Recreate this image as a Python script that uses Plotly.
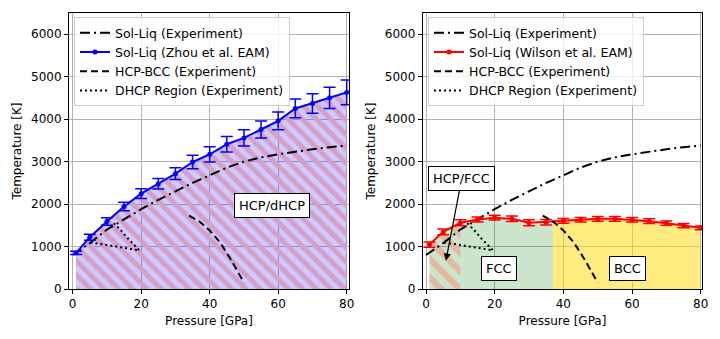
import numpy as np
import plotly.graph_objects as go

# ---------------- data ----------------
# Experimental solid-liquid boundary
P_melt_exp = [0, 5, 10, 15, 20, 25, 30, 35, 40, 45, 50, 55, 60, 65, 70, 75, 80]
T_melt_exp = [800, 1080, 1400, 1650, 1880, 2100, 2300, 2500, 2676, 2860, 3000, 3100, 3173, 3235, 3290, 3340, 3380]

# Experimental HCP-BCC boundary
P_hcp_bcc = [34, 37, 40, 43, 46, 48, 50]
T_hcp_bcc = [1730, 1590, 1380, 1100, 720, 450, 150]

# Experimental DHCP region outline
P_dhcp = [12, 14, 16, 18, 19.5, 15, 10, 5]
T_dhcp = [1550, 1390, 1200, 1030, 910, 970, 1030, 1100]

# Simulated melting curve, Zhou et al. EAM
P_zhou = [1, 5, 10, 15, 20, 25, 30, 35, 40, 45, 50, 55, 60, 65, 70, 75, 80]
T_zhou = [850, 1220, 1590, 1945, 2245, 2480, 2717, 2990, 3173, 3409, 3558, 3756, 3960, 4252, 4370, 4503, 4630]
E_zhou = [40, 70, 90, 100, 115, 125, 140, 160, 180, 185, 190, 200, 210, 220, 230, 250, 290]

# Simulated melting curve, Wilson et al. EAM
P_wilson = [1, 5, 10, 15, 20, 25, 30, 35, 40, 45, 50, 55, 60, 65, 70, 75, 80]
T_wilson = [1046, 1345, 1559, 1637, 1680, 1653, 1559, 1574, 1605, 1630, 1653, 1653, 1630, 1598, 1550, 1495, 1440]
E_wilson = [60, 70, 70, 60, 55, 65, 70, 65, 55, 55, 55, 55, 55, 55, 50, 50, 45]

# Phase boundaries used for the shaded regions (GPa)
P_hcp_fcc_end = 10
P_fcc_bcc = 37

# Region labels
labels_left = [("HCP/dHCP", 58.2, 1968)]
labels_right = [("FCC", 21.2, 487), ("BCC", 58.8, 487)]
arrow_label = ("HCP/FCC", 10.4, 2600, 5.8, 668)

# ---------------- styling ----------------
FONT = "DejaVu Sans"
W, H = 720, 339
ML, MR, MT, MB = 69, 17, 13, 50
plot_w = W - ML - MR

def px_dom(a, b):
    return [max(0.0, (a - ML) / plot_w), min(1.0, (b - ML) / plot_w)]

fig = go.Figure()

def curve_segment(P, T, p0, p1):
    """Points of the curve restricted to [p0, p1], with interpolated ends."""
    P = np.asarray(P, float)
    T = np.asarray(T, float)
    inner = (P > p0) & (P < p1)
    xs = np.concatenate([[p0], P[inner], [p1]])
    ys = np.interp(xs, P, T)
    return xs, ys

# ---------- left panel ----------
fig.add_trace(go.Scatter(
    x=P_zhou, y=T_zhou, mode="none", fill="tozeroy",
    fillpattern=dict(shape="\\", size=10, solidity=0.5, fgopacity=1,
                     bgcolor="rgba(0,0,255,0.2)", fgcolor="#d89ec8"),
    showlegend=False, hoverinfo="skip", xaxis="x", yaxis="y"))

line_common = dict(color="black", width=2)

fig.add_trace(go.Scatter(x=P_melt_exp, y=T_melt_exp, mode="lines", name="Sol-Liq (Experiment)",
                         line=dict(**line_common, dash="10px,4px,2px,4px"),
                         legend="legend", legendrank=1, xaxis="x", yaxis="y"))
fig.add_trace(go.Scatter(x=P_zhou, y=T_zhou, mode="lines+markers", name="Sol-Liq (Zhou et al. EAM)",
                         line=dict(color="blue", width=2), marker=dict(color="blue", size=5),
                         error_y=dict(type="data", array=E_zhou, color="blue", thickness=1.5, width=6),
                         legend="legend", legendrank=2, xaxis="x", yaxis="y"))
fig.add_trace(go.Scatter(x=P_hcp_bcc, y=T_hcp_bcc, mode="lines", name="HCP-BCC (Experiment)",
                         line=dict(**line_common, dash="7px,4px"),
                         legend="legend", legendrank=3, xaxis="x", yaxis="y"))
fig.add_trace(go.Scatter(x=P_dhcp, y=T_dhcp, mode="lines", name="DHCP Region (Experiment)",
                         line=dict(**line_common, dash="2px,3px"),
                         legend="legend", legendrank=4, xaxis="x", yaxis="y"))

# ---------- right panel ----------
xs, ys = curve_segment(P_wilson, T_wilson, P_wilson[0], P_fcc_bcc)
fig.add_trace(go.Scatter(x=xs, y=ys, mode="none", fill="tozeroy", fillcolor="rgba(0,128,0,0.2)",
                         showlegend=False, hoverinfo="skip", xaxis="x2", yaxis="y2"))
xs, ys = curve_segment(P_wilson, T_wilson, P_fcc_bcc, P_wilson[-1])
fig.add_trace(go.Scatter(x=xs, y=ys, mode="none", fill="tozeroy", fillcolor="rgba(255,215,0,0.5)",
                         showlegend=False, hoverinfo="skip", xaxis="x2", yaxis="y2"))
xs, ys = curve_segment(P_wilson, T_wilson, P_wilson[0], P_hcp_fcc_end)
fig.add_trace(go.Scatter(x=xs, y=ys, mode="none", fill="tozeroy",
                         fillpattern=dict(shape="\\", size=13, solidity=0.5, fgopacity=1,
                                          bgcolor="rgba(0,0,0,0)", fgcolor="#e6b8a2"),
                         showlegend=False, hoverinfo="skip", xaxis="x2", yaxis="y2"))

fig.add_trace(go.Scatter(x=P_melt_exp, y=T_melt_exp, mode="lines", name="Sol-Liq (Experiment)",
                         line=dict(**line_common, dash="10px,4px,2px,4px"),
                         legend="legend2", legendrank=1, xaxis="x2", yaxis="y2"))
fig.add_trace(go.Scatter(x=P_wilson, y=T_wilson, mode="lines+markers", name="Sol-Liq (Wilson et al. EAM)",
                         line=dict(color="red", width=2), marker=dict(color="red", size=5),
                         error_y=dict(type="data", array=E_wilson, color="red", thickness=1.5, width=6),
                         legend="legend2", legendrank=2, xaxis="x2", yaxis="y2"))
fig.add_trace(go.Scatter(x=P_hcp_bcc, y=T_hcp_bcc, mode="lines", name="HCP-BCC (Experiment)",
                         line=dict(**line_common, dash="7px,4px"),
                         legend="legend2", legendrank=3, xaxis="x2", yaxis="y2"))
fig.add_trace(go.Scatter(x=P_dhcp, y=T_dhcp, mode="lines", name="DHCP Region (Experiment)",
                         line=dict(**line_common, dash="2px,3px"),
                         legend="legend2", legendrank=4, xaxis="x2", yaxis="y2"))

# ---------- axes ----------
axis_common = dict(showline=True, linecolor="black", linewidth=1, mirror=True,
                   ticks="outside", ticklen=4, tickcolor="black",
                   showgrid=True, gridcolor="#b0b0b0", gridwidth=0.8, zeroline=False,
                   tickfont=dict(family=FONT, size=12, color="black"))
xaxis_common = dict(axis_common, tickvals=[0, 20, 40, 60, 80],
                    title=dict(text="Pressure [GPa]", font=dict(family=FONT, size=12, color="black"), standoff=6))
yaxis_common = dict(axis_common, range=[0, 6500], tickvals=[0, 1000, 2000, 3000, 4000, 5000, 6000],
                    title=dict(text="Temperature [K]", font=dict(family=FONT, size=12, color="black"), standoff=6))

legend_common = dict(font=dict(family=FONT, size=12.5, color="black"), bgcolor="rgba(255,255,255,0.8)",
                     bordercolor="#cccccc", borderwidth=1, xanchor="left", yanchor="top",
                     tracegroupgap=0, itemwidth=30)

fig.update_layout(
    width=W, height=H, margin=dict(l=ML, r=MR, t=MT, b=MB),
    paper_bgcolor="white", plot_bgcolor="white",
    font=dict(family=FONT, size=12, color="black"),
    xaxis=dict(xaxis_common, domain=px_dom(69, 349), range=[-1.07, 80.67], anchor="y"),
    yaxis=dict(yaxis_common, domain=[0, 1], anchor="x"),
    xaxis2=dict(xaxis_common, domain=px_dom(422.7, 702.3), range=[-0.96, 80.45], anchor="y2"),
    yaxis2=dict(yaxis_common, domain=[0, 1], anchor="x2"),
    legend=dict(legend_common, x=(74 - ML) / plot_w, y=0.985),
    legend2=dict(legend_common, x=(428 - ML) / plot_w, y=0.985),
    showlegend=True,
)

box = dict(bgcolor="white", bordercolor="black", borderwidth=1, borderpad=4,
           font=dict(family=FONT, size=13, color="black"))
for text, px_, ty in labels_left:
    fig.add_annotation(x=px_, y=ty, xref="x", yref="y", text=text, showarrow=False, **box)
for text, px_, ty in labels_right:
    fig.add_annotation(x=px_, y=ty, xref="x2", yref="y2", text=text, showarrow=False, **box)
text, bx, by, tx, ty = arrow_label
fig.add_annotation(x=tx, y=ty, xref="x2", yref="y2", ax=bx, ay=by, axref="x2", ayref="y2",
                   text=text, showarrow=True, arrowhead=2, arrowsize=1.2, arrowwidth=1.2,
                   arrowcolor="black", **box)

fig.write_html("out.html")
